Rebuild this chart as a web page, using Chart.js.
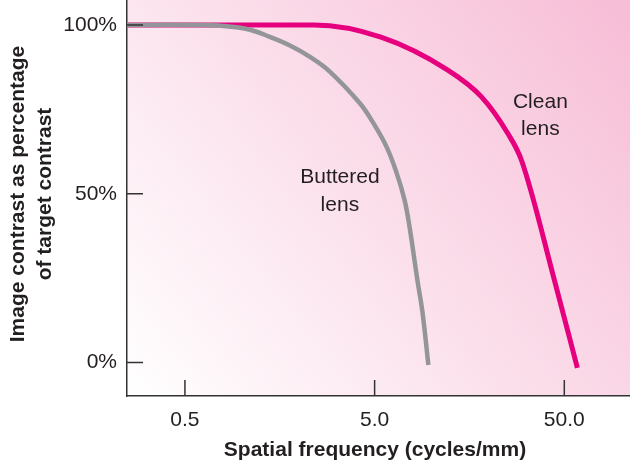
<!DOCTYPE html>
<html>
<head>
<meta charset="utf-8">
<script src="https://cdn.jsdelivr.net/npm/chart.js@4.4.1/dist/chart.umd.min.js"></script>
<style>
    body { margin: 0; background: #ffffff; }
    #wrap { width: 630px; height: 463px; }
</style>
</head>
<body>
<div id="wrap"><canvas id="mtf-chart"></canvas></div>
<script>
// values (spatial frequency in cycles/mm, contrast in %)
var frecuencia_buttered = [0.25, 0.55, 0.8, 1.1, 1.4, 1.79, 2.27, 2.9, 4.17, 4.88, 5.78, 6.53, 7.19, 7.64, 8.4, 8.95, 9.6];
var contraste_buttered = [100, 100, 99.7, 98.6, 96.5, 93.9, 90.6, 86.2, 76.9, 71.3, 63.9, 56.2, 48.2, 40.2, 24.5, 14.7, -0.7];

var frecuencia_clean = [0.25, 1.0, 2.4, 5.4, 12.1, 18.3, 25.1, 29.7, 44.3, 58.6];
var contraste_clean = [100, 100, 100, 96.4, 86.7, 78.7, 68.0, 60.0, 24.5, -1.6];

var x_ticks = [0.5, 5, 50];
var y_ticks = [0, 50, 100];

var font_family = '"Liberation Sans", Arial, Helvetica, sans-serif';
var text_color = '#231f20';
var axis_color = '#333333';

to_points = function (xs, ys) {
    var points = [];
    for (var i = 0; i < xs.length; i++) {
        points.push({ x: xs[i], y: ys[i] });
    }
    return points;
}

var fondo_plugin = {
    id: 'fondo',
    beforeDraw: function (chart) {
        var ctx = chart.ctx;
        var area = chart.chartArea;
        var grad = ctx.createLinearGradient(area.left, area.bottom, area.right, area.top);
        grad.addColorStop(0, '#ffffff');
        grad.addColorStop(1, '#f7bdd6');
        ctx.save();
        ctx.fillStyle = grad;
        ctx.fillRect(area.left, area.top, area.right - area.left, area.bottom - area.top);
        ctx.restore();
    }
};

var textos_plugin = {
    id: 'textos',
    afterDraw: function (chart) {
        var ctx = chart.ctx;
        var area = chart.chartArea;
        var xs = chart.scales.x;
        var ys = chart.scales.y;

        ctx.save();
        // inward tick marks
        ctx.strokeStyle = axis_color;
        ctx.lineWidth = 1.5;
        ctx.beginPath();
        for (var i = 0; i < x_ticks.length; i++) {
            var px = xs.getPixelForValue(x_ticks[i]);
            ctx.moveTo(px, area.bottom);
            ctx.lineTo(px, area.bottom - 16);
        }
        for (var j = 0; j < y_ticks.length; j++) {
            var py = ys.getPixelForValue(y_ticks[j]);
            ctx.moveTo(area.left, py);
            ctx.lineTo(area.left + 16, py);
        }
        ctx.stroke();

        ctx.fillStyle = text_color;
        ctx.textAlign = 'center';
        ctx.textBaseline = 'middle';

        // curve labels
        ctx.font = '21px ' + font_family;
        var bx = xs.getPixelForValue(3.28);
        ctx.fillText('Buttered', bx, ys.getPixelForValue(54.8));
        ctx.fillText('lens', bx, ys.getPixelForValue(46.7));
        var cx = xs.getPixelForValue(37.4);
        ctx.fillText('Clean', cx, ys.getPixelForValue(77.0));
        ctx.fillText('lens', cx, ys.getPixelForValue(69.1));

        // axis titles
        ctx.font = 'bold 21px ' + font_family;
        ctx.fillText('Spatial frequency (cycles/mm)', 375, 450);

        ctx.translate(0, 194);
        ctx.rotate(-Math.PI / 2);
        ctx.fillText('Image contrast as percentage', 0, 18);
        ctx.fillText('of target contrast', 0, 45);
        ctx.restore();
    }
};

var chart = new Chart(document.getElementById('mtf-chart'), {
    type: 'scatter',
    data: {
        datasets: [
            {
                label: 'Buttered lens',
                data: to_points(frecuencia_buttered, contraste_buttered),
                borderColor: '#939598',
                borderWidth: 4.5,
                showLine: true,
                pointRadius: 0,
                tension: 0.4
            },
            {
                label: 'Clean lens',
                data: to_points(frecuencia_clean, contraste_clean),
                borderColor: '#e6007e',
                borderWidth: 5,
                showLine: true,
                pointRadius: 0,
                cubicInterpolationMode: 'monotone'
            }
        ]
    },
    options: {
        responsive: true,
        maintainAspectRatio: false,
        animation: false,
        layout: { padding: 0 },
        plugins: {
            legend: { display: false },
            tooltip: { enabled: false }
        },
        scales: {
            x: {
                type: 'logarithmic',
                min: 0.2475,
                max: 111,
                afterBuildTicks: function (scale) {
                    scale.ticks = x_ticks.map(function (v) { return { value: v }; });
                },
                afterFit: function (scale) {
                    scale.height = 67;
                    scale.paddingLeft = 0;
                    scale.paddingRight = 0;
                },
                grid: { display: false, drawTicks: false },
                border: { display: true, color: axis_color, width: 1.5 },
                ticks: {
                    padding: 12,
                    color: text_color,
                    font: { family: font_family, size: 21 },
                    callback: function (value) {
                        return Number(value).toFixed(1);
                    }
                }
            },
            y: {
                min: -9.9,
                max: 107.4,
                afterBuildTicks: function (scale) {
                    scale.ticks = y_ticks.map(function (v) { return { value: v }; });
                },
                afterFit: function (scale) {
                    scale.width = 127;
                    scale.paddingTop = 0;
                    scale.paddingBottom = 0;
                },
                grid: { display: false, drawTicks: false },
                border: { display: true, color: axis_color, width: 1.5 },
                ticks: {
                    padding: 10,
                    color: text_color,
                    font: { family: font_family, size: 21 },
                    callback: function (value) {
                        return value + '%';
                    }
                }
            }
        }
    },
    plugins: [fondo_plugin, textos_plugin]
});
</script>
</body>
</html>
